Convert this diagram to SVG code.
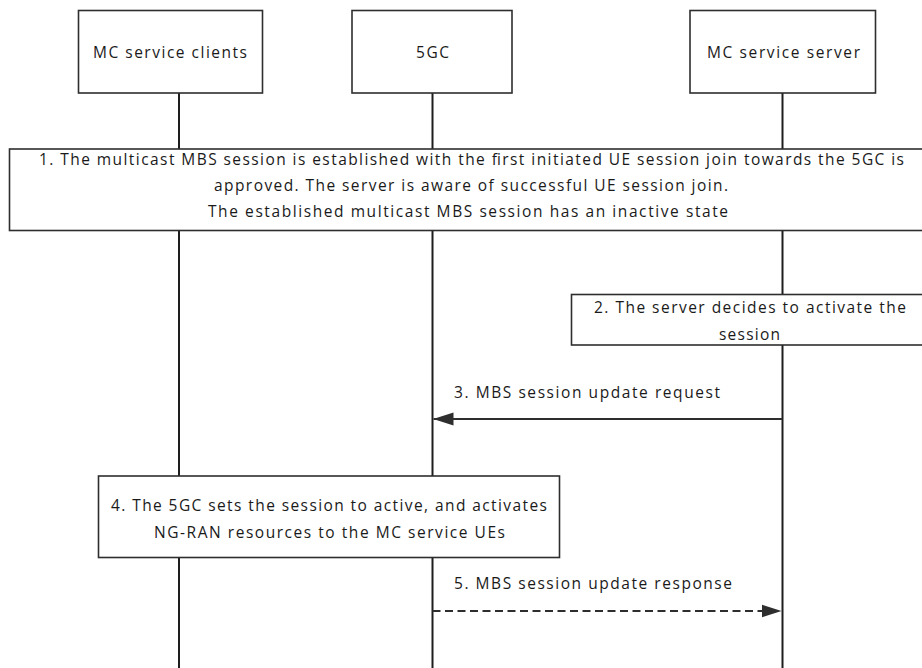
<svg xmlns="http://www.w3.org/2000/svg" width="922" height="668" viewBox="0 0 922 668">
  <style>
    .box { fill: #ffffff; stroke: #2e2e2e; stroke-width: 1.6; }
    .life { stroke: #1e1e1e; stroke-width: 2; fill: none; }
    .msg { stroke: #2e2e2e; stroke-width: 2; fill: none; }
    .dash { stroke-dasharray: 8 4.5; }
    text { font-family: "Open Sans", "Liberation Sans", sans-serif; font-size: 15.5px; fill: #1a1a1a; }
  </style>
  <defs>
    <marker id="arrow" viewBox="0 0 20 14" refX="20" refY="7" markerWidth="20" markerHeight="14" markerUnits="userSpaceOnUse" orient="auto">
      <polygon points="0,0.5 20,7 0,13.5" fill="#2e2e2e"/>
    </marker>
  </defs>

  <g id="lifelines">
    <line class="life" x1="179" y1="93" x2="179" y2="668"/>
    <line class="life" x1="432.5" y1="93" x2="432.5" y2="668"/>
    <line class="life" x1="782.5" y1="93" x2="782.5" y2="668"/>
  </g>

  <g id="node-clients">
    <rect class="box" x="78.5" y="10.5" width="184" height="82.5"/>
    <text x="93" y="57.5" textLength="154" lengthAdjust="spacing">MC service clients</text>
  </g>
  <g id="node-5gc">
    <rect class="box" x="352" y="10.5" width="160" height="82.5"/>
    <text x="416" y="57.5" textLength="33" lengthAdjust="spacing">5GC</text>
  </g>
  <g id="node-server">
    <rect class="box" x="690" y="10.5" width="185.5" height="82.5"/>
    <text x="707" y="57.5" textLength="153" lengthAdjust="spacing">MC service server</text>
  </g>

  <g id="step1">
    <rect class="box" x="9.5" y="149" width="921" height="81.5"/>
    <text x="39" y="164.5" textLength="865" lengthAdjust="spacing">1. The multicast MBS session is established with the first initiated UE session join towards the 5GC is</text>
    <text x="214" y="190.5" textLength="514" lengthAdjust="spacing">approved. The server is aware of successful UE session join.</text>
    <text x="208" y="216.5" textLength="520" lengthAdjust="spacing">The established multicast MBS session has an inactive state</text>
  </g>

  <g id="step2">
    <rect class="box" x="571.5" y="294.5" width="356" height="50.5"/>
    <text x="594" y="313" textLength="312" lengthAdjust="spacing">2. The server decides to activate the</text>
    <text x="719" y="340" textLength="61" lengthAdjust="spacing">session</text>
  </g>

  <g id="step4">
    <rect class="box" x="98.5" y="476" width="461" height="81.5"/>
    <text x="111" y="511" textLength="436" lengthAdjust="spacing">4. The 5GC sets the session to active, and activates</text>
    <text x="154" y="537.5" textLength="351" lengthAdjust="spacing">NG-RAN resources to the MC service UEs</text>
  </g>

  <g id="connectors">
    <line class="msg" x1="782.5" y1="419" x2="433.5" y2="419" marker-end="url(#arrow)"/>
    <text x="454" y="398" textLength="266" lengthAdjust="spacing">3. MBS session update request</text>
    <line class="msg dash" x1="432.5" y1="611" x2="781.5" y2="611" marker-end="url(#arrow)"/>
    <text x="454" y="589" textLength="278" lengthAdjust="spacing">5. MBS session update response</text>
  </g>
</svg>
